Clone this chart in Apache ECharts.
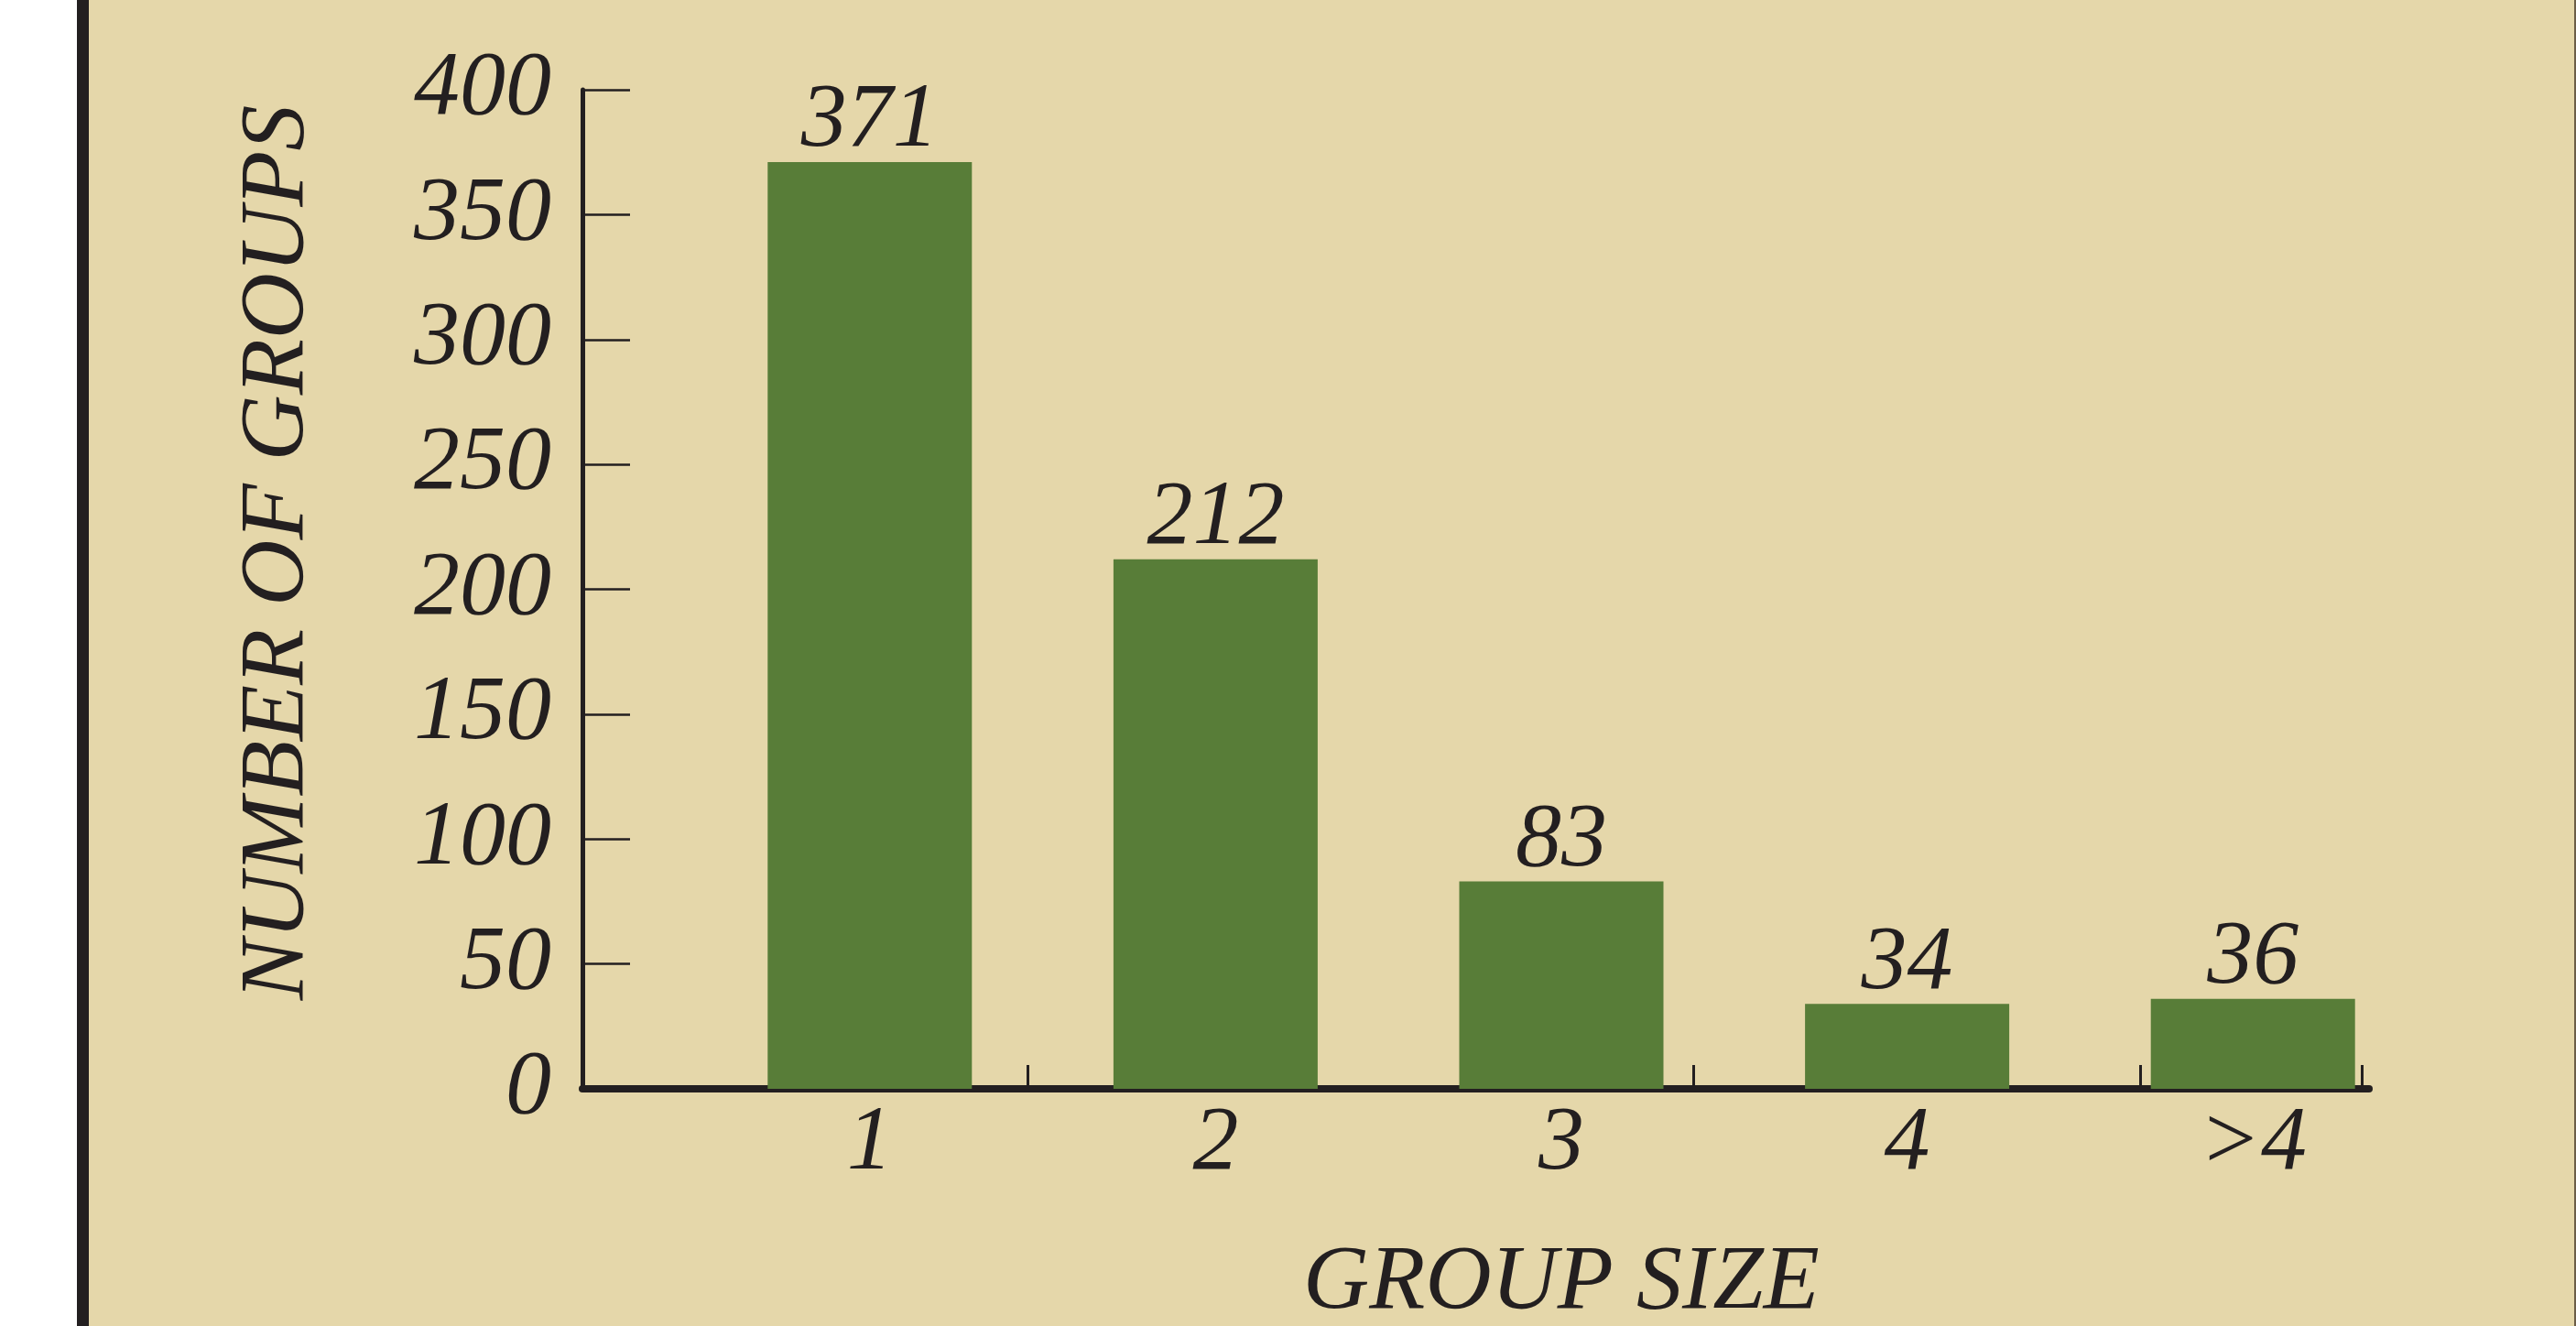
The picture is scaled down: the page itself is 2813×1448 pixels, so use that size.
<!DOCTYPE html>
<html>
<head>
<meta charset="utf-8">
<script src="https://cdn.jsdelivr.net/npm/echarts@6/dist/echarts.min.js"></script>
<style>
html,body{margin:0;padding:0;background:#e5d7aa;}
#chart{width:2813px;height:1448px;}
</style>
</head>
<body>
<div id="chart"></div>
<script>
// ---- data ----
const categories = ['1', '2', '3', '4', '>4'];
const groupCounts = [371, 212, 83, 34, 36];
const yTickValues = [0, 50, 100, 150, 200, 250, 300, 350, 400];
const xAxisTitle = 'GROUP SIZE';
const yAxisTitle = 'NUMBER OF GROUPS';
// positions of the small upward ticks along the baseline (fraction of axis length)
const baselineTickFractions = [0.249, 0.622, 0.872, 0.996];

// ---- style ----
const INK = '#231f20';
const BAR = '#587d38';
const BG = '#e5d7aa';
const FONT = {fontFamily: 'Liberation Serif', fontStyle: 'italic', fontSize: 100, color: INK};

const chart = echarts.init(document.getElementById('chart'));
const yMin = yTickValues[0];
const yMax = yTickValues[yTickValues.length - 1];
const yStep = yTickValues[1] - yTickValues[0];

chart.setOption({
  backgroundColor: BG,
  animation: false,
  graphic: [
    {type: 'rect', left: 0, top: 0, z: -10, shape: {width: 84, height: 1448}, style: {fill: '#ffffff'}},
    {type: 'rect', left: 84, top: 0, z: -10, shape: {width: 13, height: 1448}, style: {fill: INK}},
    {type: 'rect', left: 2811, top: 0, z: -10, shape: {width: 2, height: 1448}, style: {fill: '#6b5d48'}}
  ],
  grid: [
    {left: 636, right: 226, top: 98, bottom: 259, outerBoundsMode: 'none', containLabel: false},
    {left: 761, right: 164, top: 98, bottom: 259, outerBoundsMode: 'none', containLabel: false}
  ],
  xAxis: [
    {
      gridIndex: 0, type: 'value', min: 0, max: 1,
      axisLine: {show: true, lineStyle: {color: INK, width: 8}},
      axisTick: {show: true, inside: true, length: 26, customValues: baselineTickFractions,
                 lineStyle: {color: INK, width: 3}},
      axisLabel: {show: false},
      splitLine: {show: false}
    },
    {
      gridIndex: 1, type: 'category', data: categories,
      axisLine: {show: false}, axisTick: {show: false},
      axisLabel: Object.assign({margin: 11}, FONT),
      name: xAxisTitle, nameLocation: 'middle', nameGap: 163,
      nameTextStyle: FONT
    }
  ],
  yAxis: [
    {
      gridIndex: 0, type: 'value', min: yMin, max: yMax, interval: yStep,
      axisLine: {show: true, lineStyle: {color: INK, width: 5}},
      axisTick: {show: true, inside: true, length: 52, lineStyle: {color: INK, width: 2.5}},
      axisLabel: Object.assign({margin: 34}, FONT),
      splitLine: {show: false},
      name: yAxisTitle, nameLocation: 'middle', nameGap: 282,
      nameTextStyle: Object.assign({padding: [0, 0, 0, 80]}, FONT)
    },
    {
      gridIndex: 1, type: 'value', min: yMin, max: yMax, interval: yStep,
      show: false
    }
  ],
  series: [{
    type: 'bar',
    xAxisIndex: 1, yAxisIndex: 1,
    data: groupCounts,
    barWidth: 223,
    itemStyle: {color: BAR},
    label: Object.assign({show: true, position: 'top', distance: -6}, FONT),
    z: 1
  }]
});
</script>
</body>
</html>
